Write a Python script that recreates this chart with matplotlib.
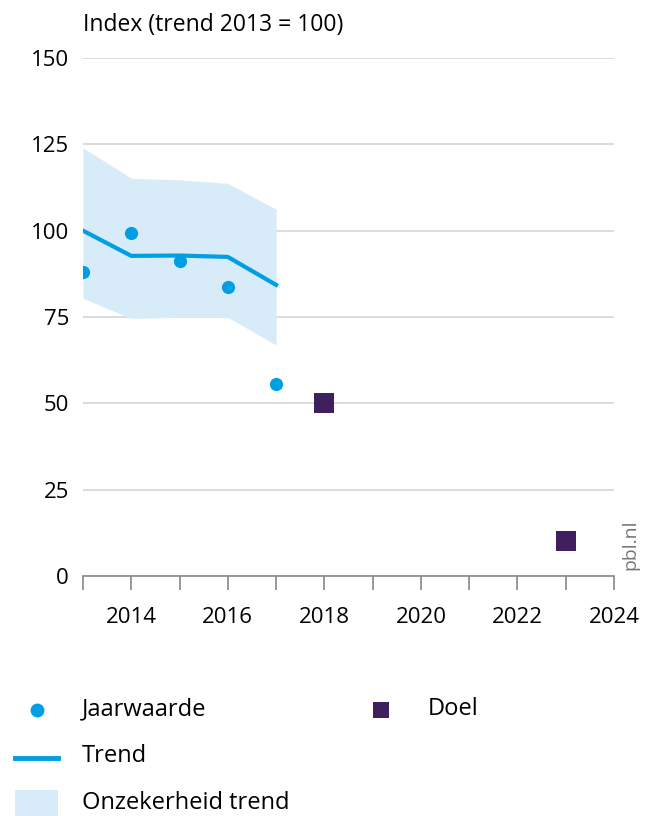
import matplotlib
matplotlib.use("Agg")
import matplotlib.pyplot as plt
from matplotlib.patches import Rectangle
from matplotlib.lines import Line2D

plt.rcParams['font.family'] = ['Open Sans', 'DejaVu Sans']

years = [2013, 2014, 2015, 2016, 2017]
jaarwaarde = [88.0, 99.3, 91.2, 83.7, 55.6]
trend = [100.0, 92.7, 92.8, 92.4, 84.3]
band_upper = [124.0, 115.2, 114.7, 113.7, 106.2]
band_lower = [80.4, 74.6, 74.9, 74.9, 66.9]
doel_years = [2018, 2023]
doel = [50, 10]
yticks = [0, 25, 50, 75, 100, 125, 150]
xticks = [2014, 2016, 2018, 2020, 2022, 2024]

BLUE = '#009FE3'
BAND = '#D8EBF9'
PURPLE = '#3F1F5E'
GRID = '#D6D6D6'
W, H = 646, 816

fig = plt.figure(figsize=(W/100, H/100), dpi=100)
ax = fig.add_axes([83/W, 1-576/H, (614-83)/W, (576-58)/H])

ax.fill_between(years, band_lower, band_upper, color=BAND, lw=0, zorder=1)
ax.plot(years, trend, color=BLUE, lw=3, zorder=3)
ax.scatter(years, jaarwaarde, s=90, color=BLUE, zorder=4, lw=0)
ax.scatter(doel_years, doel, s=210, marker='s', color=PURPLE, zorder=4, lw=0)

ax.set_xlim(2013, 2024)
ax.set_ylim(0, 150)
ax.set_yticks(yticks)
ax.set_xticks(xticks)
ax.set_xticks(range(2013, 2025), minor=True)
for s in ['left', 'right', 'top']:
    ax.spines[s].set_visible(False)
ax.spines['bottom'].set_color('#888888')
ax.spines['bottom'].set_linewidth(1.2)
ax.spines['bottom'].set_zorder(5)
ax.tick_params(axis='y', length=0, labelsize=16, pad=10)
ax.tick_params(axis='x', which='both', length=10, width=1.2, color='#888888',
               labelsize=16, pad=12)
ax.grid(axis='y', color=GRID, lw=1.2, zorder=0)
ax.set_axisbelow(True)

fig.text(83/W, 1-25/H, 'Index (trend 2013 = 100)', fontsize=16.5,
         ha='left', va='center')
fig.text(630/W, 1-545/H, 'pbl.nl', fontsize=14, color='#777777',
         rotation=90, ha='center', va='center')

# legend
lax = fig.add_axes([0, 0, 1, 1])
lax.set_xlim(0, W)
lax.set_ylim(H, 0)
lax.axis('off')
lax.add_line(Line2D([37], [710], marker='o', markersize=9, color=BLUE, lw=0))
lax.text(82, 709, 'Jaarwaarde', fontsize=17, va='center', ha='left')
lax.add_patch(Rectangle((373, 702), 16, 16, color=PURPLE, lw=0))
lax.text(428, 709, 'Doel', fontsize=17, va='center', ha='left')
lax.add_line(Line2D([15, 58], [758, 758], color=BLUE, lw=3.5))
lax.text(82, 756, 'Trend', fontsize=17, va='center', ha='left')
lax.add_patch(Rectangle((15, 790), 43, 30, color=BAND, lw=0))
lax.text(82, 803, 'Onzekerheid trend', fontsize=17, va='center', ha='left')

fig.savefig('out.png', dpi=100)
